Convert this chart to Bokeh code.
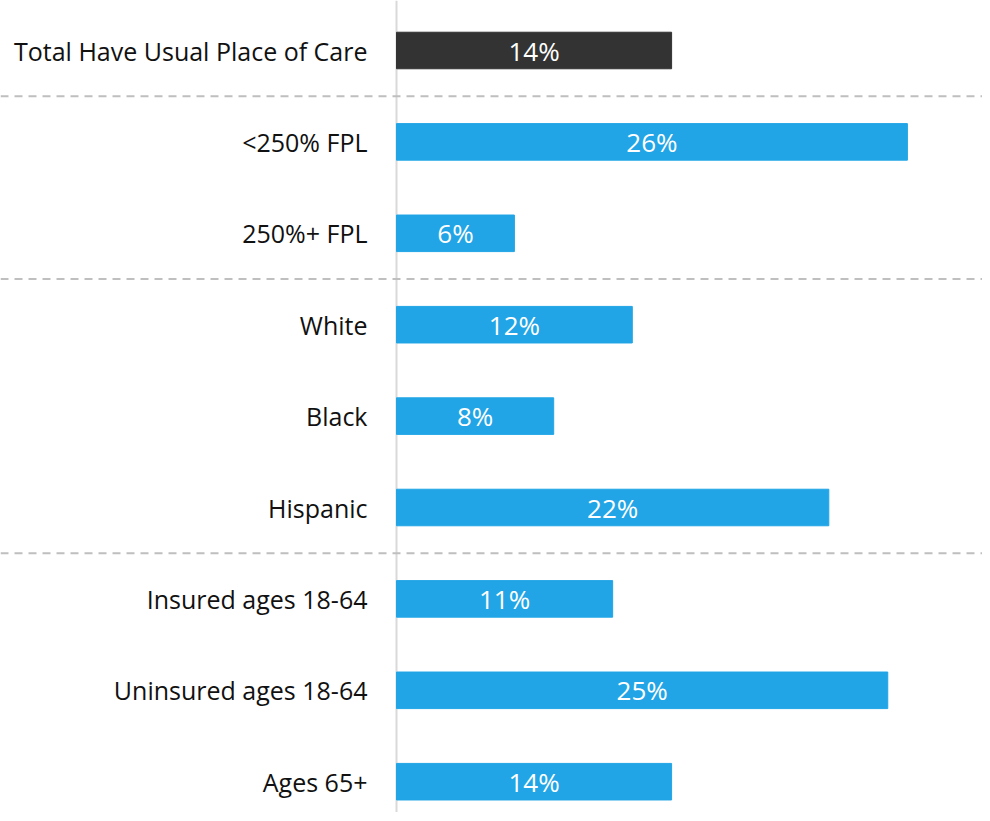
from bokeh.plotting import figure
from bokeh.models import Range1d, Span, ColumnDataSource
from bokeh.core.properties import value
from bokeh.embed import file_html
from bokeh.resources import INLINE

categories = ["Total Have Usual Place of Care", "<250% FPL", "250%+ FPL", "White", "Black",
              "Hispanic", "Insured ages 18-64", "Uninsured ages 18-64", "Ages 65+"]
values = [14, 26, 6, 12, 8, 22, 11, 25, 14]
colors = ["#333333"] + ["#21a5e6"] * 8
value_labels = ["14%", "26%", "6%", "12%", "8%", "22%", "11%", "25%", "14%"]
group_breaks = [0.5, 2.5, 5.5]

pos = list(range(len(categories)))
src = ColumnDataSource(dict(
    y=pos, v=values, mid=[v / 2 for v in values], c=colors,
    cat=categories, lab=value_labels,
))

W, H = 982, 812
px_per = 19.65
zero_px = 396
row_px = 91.4
top_px = 50

p = figure(width=W, height=H, output_backend="svg", toolbar_location=None,
           x_range=Range1d(-zero_px / px_per, (W - zero_px) / px_per),
           y_range=Range1d((H - top_px) / row_px, -top_px / row_px),
           min_border=0, min_border_left=0, min_border_right=0,
           min_border_top=0, min_border_bottom=0)
p.axis.visible = False
p.grid.visible = False
p.outline_line_color = None
p.background_fill_color = "white"
p.border_fill_color = "white"

p.add_layout(Span(location=0, dimension="height", line_color="#d9d9d9",
                  line_width=2, level="underlay"))
for b in group_breaks:
    p.add_layout(Span(location=b, dimension="width", line_color="#bfbfbf",
                      line_width=2, line_dash="8 6", level="underlay"))

p.hbar(y="y", left=0, right="v", height=0.4, color="c", source=src)

p.text(x="mid", y="y", text="lab", source=src, text_color="white",
       text_font=value("Open Sans"), text_font_size="26px",
       text_align="center", text_baseline="middle")
p.text(x=0, y="y", text="cat", source=src, text_color="#111111",
       text_font=value("Open Sans"), text_font_size="25px",
       text_align="right", text_baseline="middle", x_offset=-29)

open("out.html", "w").write(file_html(p, INLINE))
